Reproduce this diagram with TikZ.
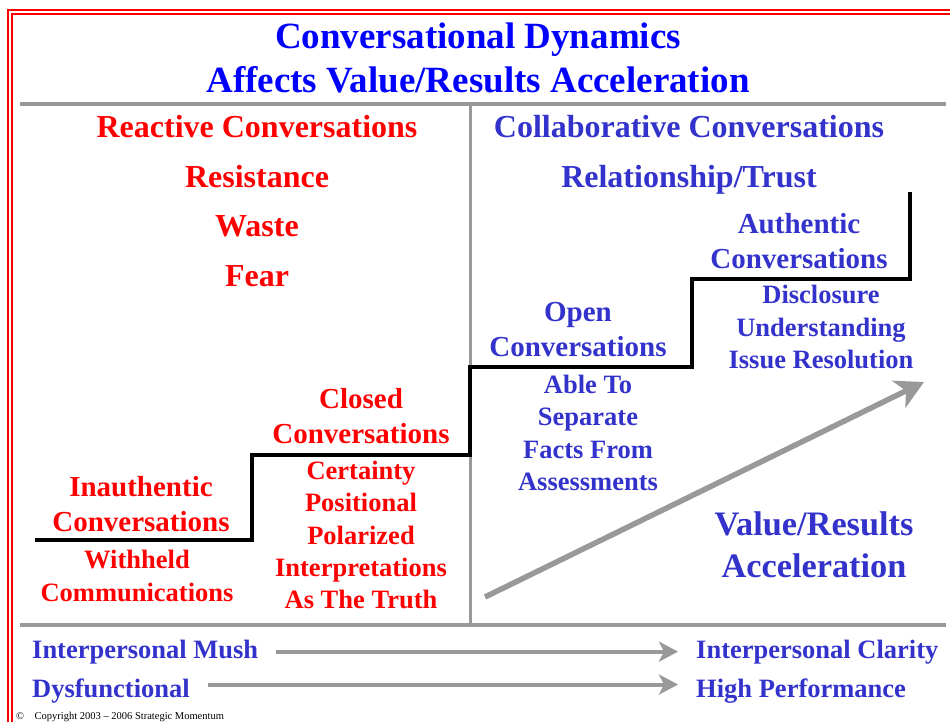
\documentclass[tikz,border=0pt]{standalone}
\usepackage{fontspec}
\setmainfont{Liberation Serif}
\usetikzlibrary{arrows.meta}

\definecolor{titleblue}{RGB}{0,0,255}
\definecolor{textblue}{RGB}{51,51,204}
\definecolor{stairred}{RGB}{255,0,0}
\definecolor{rulegray}{RGB}{153,153,153}

\begin{document}
\begin{tikzpicture}[x=1pt,y=-1pt,% pixel coordinates, y downwards
	every node/.style={inner sep=0pt,align=center},
	title/.style={font=\bfseries\fontsize{37}{44}\selectfont,text=titleblue},
	heading/.style={font=\bfseries\fontsize{32}{49.5}\selectfont},
	stairtext/.style={font=\bfseries\fontsize{29}{35}\selectfont},
	stairnote/.style={font=\bfseries\fontsize{26.5}{32.2}\selectfont},
	bottomtext/.style={font=\bfseries\fontsize{26.5}{30}\selectfont,text=textblue},
	rule/.style={draw=rulegray,line width=4pt},
	stairline/.style={draw=black,line width=4pt},
	gainarrow/.style={draw=rulegray,line width=5.5pt,-{Stealth[length=28pt,width=30pt,inset=8pt]}},
	trendarrow/.style={draw=rulegray,line width=4pt,-{Stealth[length=19pt,width=20pt,inset=5pt]},shorten <=18pt,shorten >=18pt}]

\useasboundingbox (0,0) rectangle (950,722);

% red frame, left and top only
\draw [stairred, line width=2pt] (8,722) -- (8,10) -- (950,10);
\draw [stairred, line width=2pt] (12,722) -- (12,14) -- (950,14);

\node [title] (Title) at (478,58) {Conversational Dynamics\\Affects Value/Results Acceleration};

% rules
\draw [rule] (20,104) -- (946,104);
\draw [rule] (20,625) -- (946,625);
\draw [rule, line width=3pt] (470,104) -- (470,625);
%%%%%%%%%%%%%%%%%%%%%%%%%%%%%%%%%%%%%%%%%%%%%%%%%%%%%%%%%%%%%%%%%%%%%%%%%%%%%%%%
\begin{scope}[text=stairred]
\node [heading] (Reactive) at (257,201) {Reactive Conversations\\Resistance\\Waste\\Fear};
\node [stairtext] (Inauth)	at (141,504)	{Inauthentic\\Conversations};
\node [stairnote] (Withheld)	at (137,576)	{Withheld\\Communications};
\node [stairtext] (Closed)	at (361,416)	{Closed\\Conversations};
\node [stairnote] (Certainty)	at (361,535)	{Certainty\\Positional\\Polarized\\Interpretations\\As The Truth};
\end{scope}
%%%%%%%%%%%%%%%%%%%%%%%%%%%%%%%%%%%%%%%%%%%%%%%%%%%%%%%%%%%%%%%%%%%%%%%%%%%%%%%%
\begin{scope}[text=textblue]
\node [heading] (Collab) at (689,155) {Collaborative Conversations\\Relationship/Trust};
\node [stairtext] (Open)	at (578,330)	{Open\\Conversations};
\node [stairnote] (Able)	at (588,433)	{Able To\\Separate\\Facts From\\Assessments};
\node [stairtext] (Authentic)	at (799,241)	{Authentic\\Conversations};
\node [stairnote] (Disclosure)	at (821,327)	{Disclosure\\Understanding\\Issue Resolution};
\node [font=\bfseries\fontsize{34.3}{42}\selectfont] (Value) at (814,545) {Value/Results\\Acceleration};
\end{scope}
%%%%%%%%%%%%%%%%%%%%%%%%%%%%%%%%%%%%%%%%%%%%%%%%%%%%%%%%%%%%%%%%%%%%%%%%%%%%%%%%
% the stairs
\draw [stairline] (35,540) -| (252,455) -| (470,367) -| (692,279) -| (910,192);

\coordinate (GainLow)	at (485,597);
\coordinate (GainHigh)	at (924,382);
\draw [gainarrow] (GainLow) -- (GainHigh);
%%%%%%%%%%%%%%%%%%%%%%%%%%%%%%%%%%%%%%%%%%%%%%%%%%%%%%%%%%%%%%%%%%%%%%%%%%%%%%%%
\node [bottomtext, anchor=base west] (Mush)	at (32,658)	{Interpersonal Mush};
\node [bottomtext, anchor=base west] (Clarity)	at (696,658)	{Interpersonal Clarity};
\node [bottomtext, anchor=base west] (Dysf)	at (32,697)	{Dysfunctional};
\node [bottomtext, anchor=base west] (HighPerf)	at (696,697)	{High Performance};

\draw [trendarrow] (Mush.east) -- (Mush.east -| Clarity.west);
\draw [trendarrow] ([yshift=6pt]Dysf.east) -- ([yshift=6pt]Dysf.east -| HighPerf.west);

\node [anchor=base west, font=\fontsize{10.5}{12}\selectfont] (Copyright) at (16,719)
	{\textcopyright\quad Copyright 2003 -- 2006 Strategic Momentum};

\end{tikzpicture}
\end{document}
